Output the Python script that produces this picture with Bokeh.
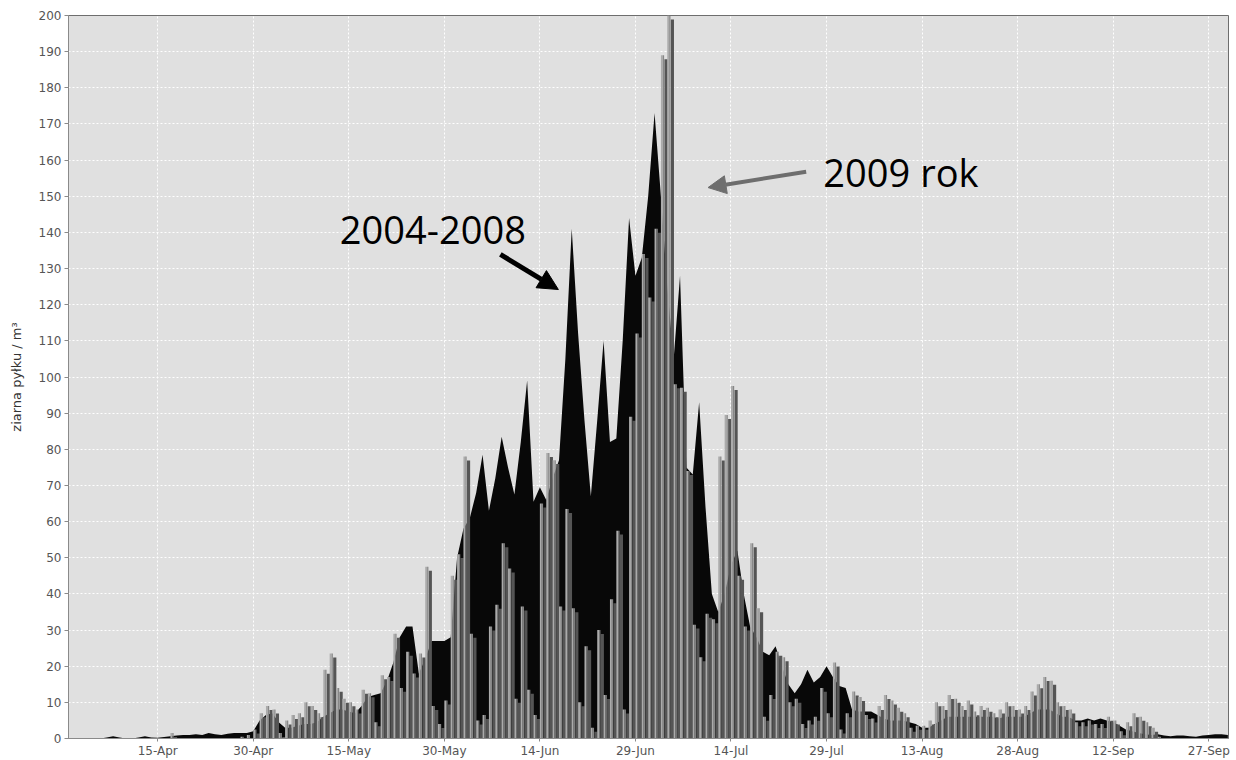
import pandas as pd
from bokeh.plotting import figure
from bokeh.models import Range1d, FixedTicker, Label, Arrow, NormalHead
from bokeh.embed import file_html
from bokeh.resources import INLINE

# ---------------- data ----------------
dates = pd.date_range("2009-04-01", periods=183, freq="D")

pollen_2009 = [
    0, 0, 0, 0, 0, 0, 0, 0, 0, 0,
    0, 0, 0, 0, 0, 0, 1.5, 0, 0, 0,
    0, 0, 0, 0, 0, 0, 0, 0.5, 1, 2.5,
    7, 9, 8, 1.5, 5, 6.5, 7, 10, 9, 7,
    19, 23.5, 14, 11, 10, 8, 13.5, 12.5, 4.5, 17.5,
    17, 29, 14, 24, 18, 23.5, 47.5, 9, 4, 10.5,
    45, 51, 78, 29, 5, 6.5, 31, 37, 54, 47,
    11, 36.5, 13.5, 6.5, 65, 79, 77, 36.5, 63.5, 36,
    10, 25.5, 3, 30, 12, 38.5, 57.5, 8, 89, 112,
    134, 122, 141, 189, 200, 98, 97, 74, 31.5, 22.5,
    34.5, 33, 78, 89.5, 97.5, 45, 31, 54, 36, 6,
    12, 24, 22.5, 10, 11, 4, 5, 6, 14, 7,
    21, 2.5, 7, 13, 11.5, 6.5, 5.5, 9, 12, 10.5,
    8.5, 7, 3, 3.5, 3.5, 5, 10, 9, 12, 11,
    9, 10.5, 7.5, 9, 8.5, 7, 8, 10, 9, 8,
    9, 13, 15, 17, 16, 10, 9, 8, 4.5, 4.5,
    5, 4, 4, 6, 5, 2, 4.5, 7, 6, 4.5,
    3, 0.5, 0, 0, 0, 0, 0, 0, 0, 0,
    0, 0, 0,
]

pollen_2004_2008 = [
    0, 0, 0, 0, 0, 0, 0.3, 0.6, 0.3, 0,
    0, 0.3, 0.6, 0.3, 0.2, 0.4, 0.6, 0.8, 1, 1,
    1.2, 1, 1.5, 1.2, 1, 1.3, 1.5, 1.5, 1.5, 2,
    5, 6.5, 7, 4.5, 3, 3, 3.5, 4, 4, 4.5,
    6, 7, 8, 8, 7.5, 7, 9, 11.5, 12, 12.5,
    16, 21, 28, 31, 31, 18, 22, 27, 27, 27,
    28, 50, 58, 61, 68, 78.5, 63, 72, 83.5, 75,
    67.5, 82, 99, 65.5, 69.5, 66, 72, 77, 105, 141,
    112, 88, 67, 88, 110, 82, 83, 110, 144, 128,
    133, 150, 173, 150, 125, 105, 128, 75, 73, 93,
    64, 40, 35, 40, 48, 52, 40, 31, 28, 24,
    23, 25.5, 20, 15, 12.5, 15, 19, 15.5, 17, 20,
    17, 14.5, 14, 8, 7.5, 7.5, 7.5, 6.5, 5.5, 5,
    5, 5, 4.5, 4, 3, 3, 4, 5, 6, 6,
    6, 6, 6, 6, 6, 6, 5.5, 6, 6, 6,
    6, 7, 8, 8, 8, 7, 6, 6, 5, 5,
    5.5, 5, 5.5, 5, 4.5, 3.5, 2.5, 2, 1.5, 1.2,
    1, 1.2, 0.8, 0.6, 0.8, 0.8, 0.6, 0.5, 0.8, 1,
    1.2, 1.2, 1,
]

tick_dates = ["2009-04-15", "2009-04-30", "2009-05-15", "2009-05-30",
              "2009-06-14", "2009-06-29", "2009-07-14", "2009-07-29",
              "2009-08-13", "2009-08-28", "2009-09-12", "2009-09-27"]
tick_labels = ["15-Apr", "30-Apr", "15-May", "30-May", "14-Jun", "29-Jun",
               "14-Jul", "29-Jul", "13-Aug", "28-Aug", "12-Sep", "27-Sep"]
y_ticks = list(range(0, 201, 10))

# ---------------- helpers ----------------
DAY = 86400000.0
def ms(ts):
    return pd.Timestamp(ts).value / 1e6

x_ms = [ms(d) for d in dates]
tick_ms = [ms(t) for t in tick_dates]
t0 = ms("2009-04-01")

p = figure(width=1236, height=760, output_backend="svg", toolbar_location=None,
           x_axis_type="datetime",
           x_range=Range1d(t0, t0 + 182.1 * DAY),
           y_range=Range1d(0, 200),
           min_border_left=68, min_border_right=8, min_border_top=15,
           min_border_bottom=22)

p.background_fill_color = "#e0e0e0"
p.border_fill_color = "white"
p.outline_line_color = "#6e6e6e"
p.outline_line_width = 1

# grid
p.xgrid.ticker = FixedTicker(ticks=tick_ms)
p.ygrid.ticker = FixedTicker(ticks=y_ticks)
for g in (p.xgrid, p.ygrid):
    g.grid_line_color = "white"
    g.grid_line_dash = "2 2"
    g.grid_line_width = 1

# axes
p.xaxis.ticker = FixedTicker(ticks=tick_ms)
p.xaxis.major_label_overrides = {t: l for t, l in zip(tick_ms, tick_labels)}
p.yaxis.ticker = FixedTicker(ticks=y_ticks)
for ax in (p.xaxis, p.yaxis):
    ax.axis_line_color = "#8a8a8a"
    ax.major_tick_line_color = "#8a8a8a"
    ax.minor_tick_line_color = None
    ax.major_tick_in = 0
    ax.major_tick_out = 4
    ax.major_label_text_font = "DejaVu Sans"
    ax.major_label_text_color = "#555555"
    ax.major_label_standoff = 3
p.xaxis.major_label_text_font_size = "12px"
p.xaxis.major_tick_out = 3
p.xaxis.major_label_standoff = 2
p.yaxis.major_label_text_font_size = "12px"
p.yaxis.axis_label = "ziarna pyłku / m³"
p.yaxis.axis_label_text_font = "DejaVu Sans"
p.yaxis.axis_label_text_font_size = "13px"
p.yaxis.axis_label_text_font_style = "normal"
p.yaxis.axis_label_text_color = "#333333"
p.yaxis.axis_label_standoff = 12

# 2004-2008 average: black area
p.varea(x=x_ms, y1=0, y2=pollen_2004_2008, fill_color="#080808")

# 2009: bars with a shadow
shadow_top = [max(v - 1.1, 0) for v in pollen_2009]
p.vbar(x=[x + 0.80 * DAY for x in x_ms], width=0.50 * DAY, bottom=0, top=shadow_top,
       fill_color="#555555", line_color=None)
p.vbar(x=[x + 0.15 * DAY for x in x_ms], width=0.30 * DAY, bottom=0, top=pollen_2009,
       fill_color="#ababab", line_color=None)
p.vbar(x=[x + 0.40 * DAY for x in x_ms], width=0.20 * DAY, bottom=0, top=pollen_2009,
       fill_color="#878787", line_color=None)

# annotations
p.add_layout(Label(x=t0 + 42.6 * DAY, y=140.8, text="2004-2008",
                   text_font="Open Sans", text_font_size="38px", text_color="black",
                   text_baseline="middle", text_align="left"))
p.add_layout(Label(x=t0 + 118.5 * DAY, y=156.6, text="2009 rok",
                   text_font="Open Sans", text_font_size="38px", text_color="black",
                   text_baseline="middle", text_align="left"))
p.add_layout(Arrow(end=NormalHead(size=20, fill_color="black", line_color="black"),
                   x_start=t0 + 67.8 * DAY, y_start=133.9,
                   x_end=t0 + 76.9 * DAY, y_end=124.2,
                   line_color="black", line_width=5))
p.add_layout(Arrow(end=NormalHead(size=18, fill_color="#6e6e6e", line_color="#6e6e6e"),
                   x_start=t0 + 115.8 * DAY, y_start=156.8,
                   x_end=t0 + 100.4 * DAY, y_end=152.4,
                   line_color="#6e6e6e", line_width=4))

open("out.html", "w").write(file_html(p, INLINE))
